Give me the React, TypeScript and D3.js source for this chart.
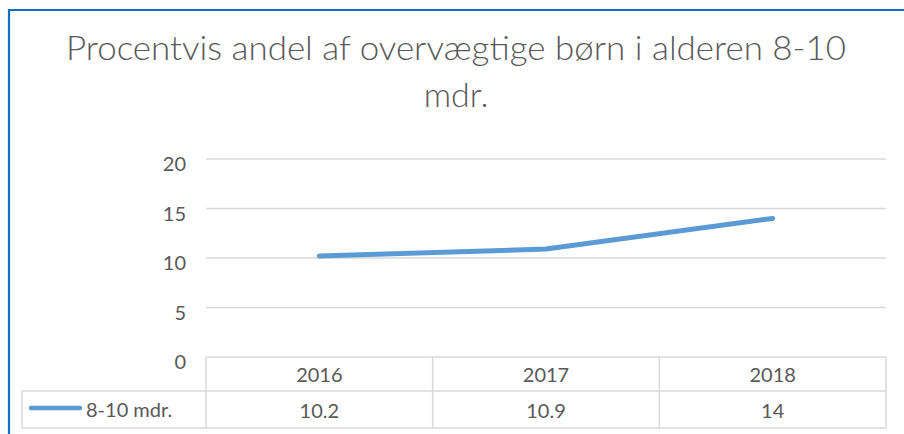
import React from "react";
import * as d3 from "d3";

const years = ["2016", "2017", "2018"];
const values = [10.2, 10.9, 14];
const yTicks = [0, 5, 10, 15, 20];
const seriesName = "8-10 mdr.";
const titleLines = ["Procentvis andel af overvægtige børn i alderen 8-10", "mdr."];

const W = 904;
const H = 434;
const textColor = "#595959";
const gridColor = "#d9d9d9";
const lineColor = "#5b9bd5";
const font = "Lato, 'Open Sans', sans-serif";

const App = () => {
  const x = d3.scaleBand().domain(years).range([206, 886]);
  const y = d3.scaleLinear().domain([0, 20]).range([357, 159]);

  const rowTop = y(0);
  const rowMid = 391;
  const rowBottom = 428;

  const line = d3
    .line<number>()
    .x((_, i) => x(years[i])! + x.bandwidth() / 2)
    .y((d) => y(d));

  return (
    <svg
      width={W}
      height={H}
      style={{ position: "absolute", left: 0, top: 0, background: "#fff" }}
      fontFamily={font}
    >
      <rect x={0} y={0} width={W} height={H} fill="#fff" />
      <path d={`M9,${H} V10 H${W}`} fill="none" stroke="#0f6fc6" strokeWidth={2.2} />

      {titleLines.map((t, i) => (
        <text
          key={i}
          x={456}
          y={60 + i * 47}
          textAnchor="middle"
          fontSize={34}
          fontWeight={300}
          fill={textColor}
          {...(i === 0 ? { textLength: 780, lengthAdjust: "spacingAndGlyphs" } : {})}
        >
          {t}
        </text>
      ))}

      {/* gridlines and y tick labels */}
      {yTicks.map((t) => (
        <g key={t}>
          {t > 0 && (
            <line x1={206} x2={886} y1={y(t)} y2={y(t)} stroke={gridColor} strokeWidth={1.5} />
          )}
          <text
            x={186}
            y={y(t) + 4}
            textAnchor="end"
            dominantBaseline="central"
            fontSize={20}
            fill={textColor}
          >
            {t}
          </text>
        </g>
      ))}

      {/* data table */}
      <g stroke={gridColor} strokeWidth={1.5} fill="none">
        <line x1={206} x2={886} y1={rowTop} y2={rowTop} />
        <line x1={22} x2={886} y1={rowMid} y2={rowMid} />
        <line x1={22} x2={886} y1={rowBottom} y2={rowBottom} />
        <line x1={22} x2={22} y1={rowMid} y2={rowBottom} />
        {years.map((yr) => (
          <line key={yr} x1={x(yr)!} x2={x(yr)!} y1={rowTop} y2={rowBottom} />
        ))}
        <line x1={886} x2={886} y1={rowTop} y2={rowBottom} />
      </g>
      {years.map((yr, i) => (
        <g key={yr} fontSize={20} fill={textColor} textAnchor="middle">
          <text x={x(yr)! + x.bandwidth() / 2} y={(rowTop + rowMid) / 2} dominantBaseline="central">
            {yr}
          </text>
          <text x={x(yr)! + x.bandwidth() / 2} y={(rowMid + rowBottom) / 2} dominantBaseline="central">
            {values[i]}
          </text>
        </g>
      ))}
      <line x1={31} x2={80} y1={408} y2={408} stroke={lineColor} strokeWidth={4.5} strokeLinecap="round" />
      <text x={86} y={409} dominantBaseline="central" fontSize={20} fill={textColor}>
        {seriesName}
      </text>

      {/* series */}
      <path
        d={line(values) ?? ""}
        fill="none"
        stroke={lineColor}
        strokeWidth={5}
        strokeLinecap="round"
        strokeLinejoin="round"
      />
    </svg>
  );
};

export default App;
